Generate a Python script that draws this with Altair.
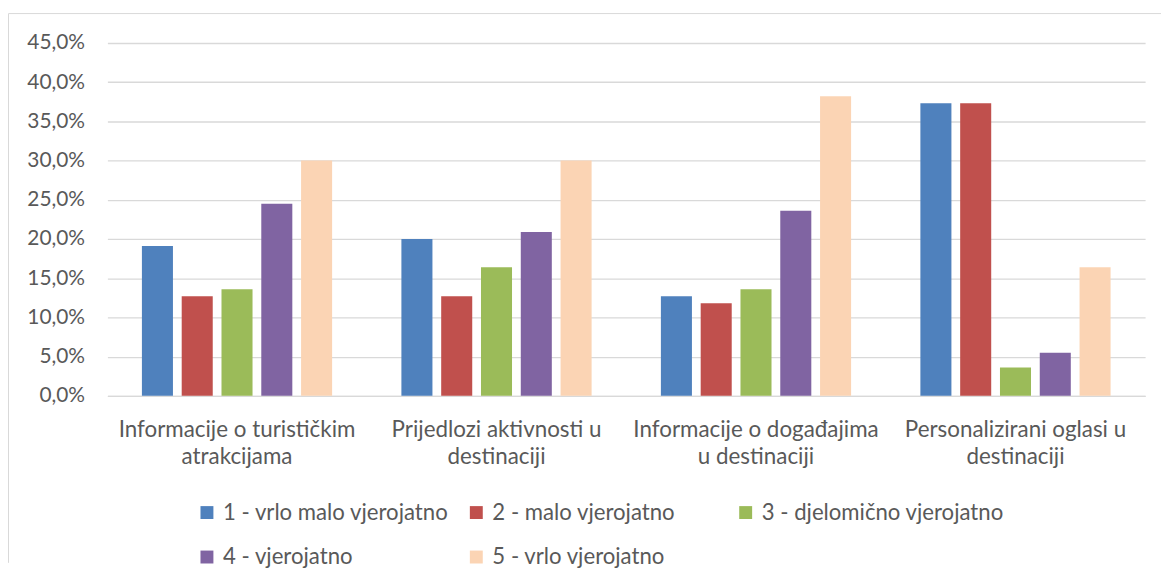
import altair as alt
import pandas as pd

categories = [
    "Informacije o turističkim\natrakcijama",
    "Prijedlozi aktivnosti u\ndestinaciji",
    "Informacije o događajima\nu destinaciji",
    "Personalizirani oglasi u\ndestinaciji",
]
series = [
    "1 - vrlo malo vjerojatno",
    "2 - malo vjerojatno",
    "3 - djelomično vjerojatno",
    "4 - vjerojatno",
    "5 - vrlo vjerojatno",
]
s1 = [19.1, 20.0, 12.7, 37.3]
s2 = [12.7, 12.7, 11.8, 37.3]
s3 = [13.6, 16.4, 13.6, 3.6]
s4 = [24.5, 20.9, 23.6, 5.5]
s5 = [30.0, 30.0, 38.2, 16.4]
colors = ["#4F81BD", "#C0504D", "#9BBB59", "#8064A2", "#FBD4B4"]
y_ticks = [0, 5, 10, 15, 20, 25, 30, 35, 40, 45]

rows = []
for s, vals in zip(series, [s1, s2, s3, s4, s5]):
    for c, v in zip(categories, vals):
        rows.append({"kategorija": c, "serija": s, "vrijednost": v})
df = pd.DataFrame(rows)

W, H = 1044, 355
FONT = "Lato"
TXT = "#595959"

bars = alt.Chart(df).mark_bar().encode(
    x=alt.X(
        "kategorija:N",
        sort=categories,
        scale=alt.Scale(paddingInner=0.267, paddingOuter=0.133),
        axis=alt.Axis(
            title=None,
            labelAngle=0,
            labelExpr="split(datum.label, '\\n')",
            labelFontSize=22.5,
            labelFont=FONT,
            labelColor=TXT,
            labelPadding=23,
            labelLineHeight=27,
            labelLimit=0,
            ticks=False,
            domainColor="#d9d9d9",
            domainWidth=1.3,
        ),
    ),
    xOffset=alt.XOffset(
        "serija:N", sort=series, scale=alt.Scale(paddingInner=0.22, paddingOuter=0)
    ),
    y=alt.Y(
        "vrijednost:Q",
        scale=alt.Scale(domain=[0, 45], nice=False),
        axis=alt.Axis(
            title=None,
            values=y_ticks,
            labelExpr="replace(format(datum.value, '.1f'), '.', ',') + '%'",
            labelFontSize=21,
            labelFont=FONT,
            labelColor=TXT,
            labelPadding=23,
            ticks=False,
            domain=False,
            gridColor="#d9d9d9",
            gridWidth=1.3,
        ),
    ),
    color=alt.Color(
        "serija:N",
        sort=series,
        scale=alt.Scale(domain=series, range=colors),
        legend=alt.Legend(
            title=None,
            orient="none",
            legendX=89,
            legendY=461,
            columns=3,
            direction="horizontal",
            gridAlign="all",
            symbolType="square",
            symbolSize=169,
            symbolStrokeWidth=0,
            labelFontSize=22.3,
            labelFont=FONT,
            labelColor=TXT,
            labelOffset=5,
            labelLimit=0,
            columnPadding=-28,
            rowPadding=22,
            padding=0,
        ),
    ),
)

frame_df = pd.DataFrame({"k": [0]})
frame_left = alt.Chart(frame_df).mark_rule(color="#d9d9d9", strokeWidth=1).encode(
    x=alt.value(-99.5), y=alt.value(-29.6), y2=alt.value(H + 168)
)
frame_top = alt.Chart(frame_df).mark_rule(color="#d9d9d9", strokeWidth=1).encode(
    x=alt.value(-99.5), x2=alt.value(W + 16), y=alt.value(-29.6)
)

chart = (
    alt.layer(bars, frame_left, frame_top)
    .properties(
        width=W,
        height=H,
        padding={"left": 0, "top": 2.5, "right": 0, "bottom": 0},
        background="white",
    )
    .configure_view(stroke=None)
)

chart.save("out.html", embed_options={"renderer": "svg", "actions": False})
